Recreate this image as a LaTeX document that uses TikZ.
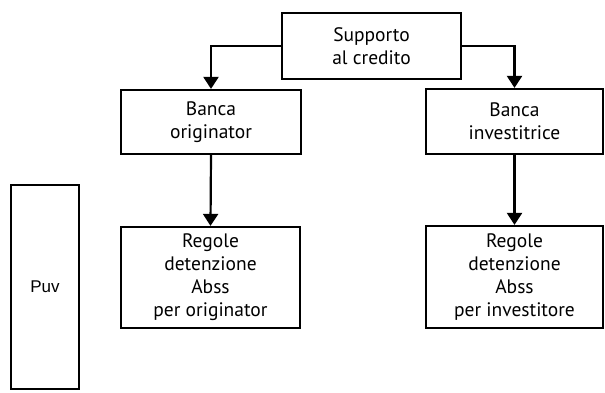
\documentclass[tikz,border=0pt]{standalone}
\usepackage{fontspec}
\setmainfont{PT Sans}
\newfontfamily\puvfont{Liberation Sans}
\usetikzlibrary{arrows.meta}
\begin{document}
\begin{tikzpicture}[x=1pt,y=-1pt,
  box/.style={draw=black,line width=2.2pt,align=center,inner sep=0pt,
    font=\fontsize{19.5}{23}\selectfont},
  arr/.style={line width=2.2pt,-{Triangle[width=15pt,length=12pt]}}]
\useasboundingbox (0,0) rectangle (605,392);
\node[box,minimum width=179pt,minimum height=66pt] (sup) at (371.5,46) {Supporto\\al credito};
\node[box,minimum width=180pt,minimum height=64pt] (bo) at (211,122) {Banca\\originator};
\node[box,minimum width=177pt,minimum height=65pt] (bi) at (514.5,121.5) {Banca\\investitrice};
\node[box,minimum width=179pt,minimum height=101pt] (ro) at (210.5,277.5) {Regole\\detenzione\\Abss\\per originator};
\node[box,minimum width=177pt,minimum height=102pt] (ri) at (514.5,277) {Regole\\detenzione\\Abss\\per investitore};
\node[box,minimum width=68pt,minimum height=204pt,font=\puvfont\fontsize{17}{20}\selectfont] (puv) at (45,287) {Puv};
\draw[arr] (sup.west) -| (bo.north);
\draw[arr] (sup.east) -| (bi.north);
\draw[arr] (bo.south) -- (ro.north);
\draw[arr] (bi.south) -- (ri.north);
\end{tikzpicture}
\end{document}
